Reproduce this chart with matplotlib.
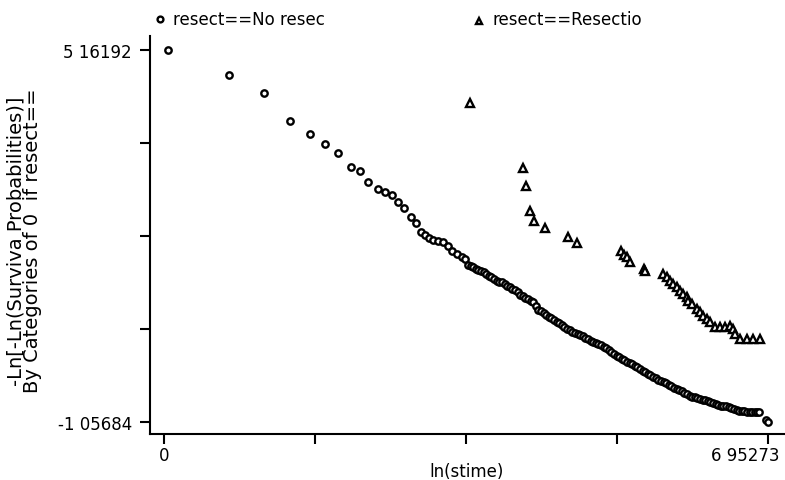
import matplotlib
matplotlib.use("Agg")
import matplotlib.pyplot as plt
import matplotlib.transforms as mtransforms

# ln(stime) vs -ln(-ln(S)) for "No resection" group (circles)
no_resec_x = [0.05, 0.75, 1.15, 1.45, 1.68, 1.85, 2.00, 2.15, 2.26, 2.35,
              2.46, 2.54, 2.63, 2.69, 2.76, 2.84, 2.90, 2.96, 3.00, 3.05,
              3.10, 3.15, 3.21, 3.27, 3.32, 3.37, 3.43, 3.47,
              3.50, 3.53, 3.56, 3.59, 3.62, 3.65, 3.68, 3.71, 3.74, 3.77,
              3.80, 3.83, 3.86, 3.89, 3.92, 3.95, 3.98, 4.01, 4.04, 4.07,
              4.10, 4.13, 4.16, 4.19, 4.22, 4.25, 4.28, 4.31, 4.34, 4.37,
              4.40, 4.43, 4.46, 4.49, 4.52, 4.55, 4.58, 4.61, 4.64, 4.67,
              4.70, 4.73, 4.76, 4.79, 4.82, 4.85, 4.88, 4.91, 4.94, 4.97,
              5.00, 5.03, 5.06, 5.09, 5.12, 5.15, 5.18, 5.21, 5.24, 5.27,
              5.30, 5.33, 5.36, 5.39, 5.42, 5.45, 5.48, 5.51, 5.54, 5.57,
              5.60, 5.63, 5.66, 5.69, 5.72, 5.75, 5.78, 5.81, 5.84, 5.87,
              5.90, 5.93, 5.96, 5.99, 6.02, 6.05, 6.08, 6.11, 6.14, 6.17,
              6.20, 6.23, 6.26, 6.29, 6.32, 6.35, 6.38, 6.41, 6.44, 6.47,
              6.50, 6.53, 6.56, 6.59, 6.62, 6.65, 6.68, 6.71, 6.74, 6.77,
              6.80, 6.83, 6.85, 6.93, 6.95]
no_resec_y = [5.16, 4.74, 4.44, 3.98, 3.76, 3.59, 3.44, 3.21, 3.14, 2.96,
              2.84, 2.79, 2.74, 2.62, 2.52, 2.37, 2.27, 2.12, 2.07, 2.02,
              1.99, 1.97, 1.95, 1.89, 1.80, 1.75, 1.70, 1.67,
              1.57, 1.55, 1.53, 1.50, 1.48, 1.46, 1.45, 1.42, 1.39, 1.36,
              1.33, 1.30, 1.29, 1.28, 1.25, 1.22, 1.19, 1.17, 1.14, 1.11,
              1.07, 1.04, 1.02, 0.99, 0.97, 0.95, 0.88, 0.82, 0.79, 0.76,
              0.73, 0.70, 0.68, 0.65, 0.62, 0.59, 0.56, 0.53, 0.50, 0.48,
              0.45, 0.43, 0.41, 0.39, 0.37, 0.35, 0.32, 0.30, 0.28, 0.26,
              0.24, 0.22, 0.20, 0.17, 0.14, 0.11, 0.08, 0.05, 0.03, 0.00,
              -0.03, -0.05, -0.07, -0.09, -0.12, -0.14, -0.17, -0.20, -0.23, -0.26,
              -0.28, -0.30, -0.33, -0.35, -0.37, -0.39, -0.41, -0.44, -0.46, -0.49,
              -0.51, -0.53, -0.55, -0.57, -0.60, -0.62, -0.64, -0.65, -0.66, -0.67,
              -0.69, -0.70, -0.71, -0.72, -0.74, -0.76, -0.78, -0.79, -0.80, -0.80,
              -0.81, -0.82, -0.84, -0.86, -0.87, -0.88, -0.88, -0.89, -0.89, -0.90,
              -0.90, -0.89, -0.89, -1.03, -1.057]

# "Resection" group (triangles)
resec_x = [3.52, 4.13, 4.17, 4.21, 4.26, 4.39, 4.65, 4.75, 5.26, 5.30,
           5.33, 5.36, 5.53, 5.54, 5.74, 5.79, 5.83, 5.86, 5.91, 5.94,
           5.97, 6.02, 6.03, 6.08, 6.14, 6.17, 6.20, 6.25, 6.29, 6.34,
           6.40, 6.46, 6.52, 6.55, 6.57, 6.63, 6.71, 6.78, 6.86]
resec_y = [4.28, 3.19, 2.89, 2.47, 2.30, 2.19, 2.04, 1.94, 1.80, 1.74,
           1.70, 1.62, 1.50, 1.47, 1.42, 1.37, 1.30, 1.25, 1.20, 1.13,
           1.08, 1.03, 0.97, 0.92, 0.83, 0.78, 0.72, 0.67, 0.62, 0.53,
           0.53, 0.53, 0.55, 0.50, 0.41, 0.33, 0.33, 0.33, 0.33]

x_min, x_max = 0.0, 6.95273
y_min, y_max = -1.05684, 5.16192
y_ticks = [y_min + i * (y_max - y_min) / 4 for i in range(5)]
x_ticks = [x_min + i * (x_max - x_min) / 4 for i in range(5)]

plt.rcParams['font.family'] = ['DejaVu Sans']
fig = plt.figure(figsize=(7.85, 4.81), dpi=100)
ax = fig.add_axes([0.191, 0.096, 0.809, 0.827])

circ = dict(marker='o', markersize=4.6, markerfacecolor='white',
            markeredgecolor='black', markeredgewidth=1.7)
tri = dict(marker='^', markersize=5.5, markerfacecolor='white',
           markeredgecolor='black', markeredgewidth=1.7)

ax.plot(no_resec_x, no_resec_y, linestyle='none', **circ)
ax.plot(resec_x, resec_y, linestyle='none', **tri)

ax.set_xlim(-0.161, 7.148)
ax.set_ylim(-1.258, 5.396)

ax.spines['top'].set_visible(False)
ax.spines['right'].set_visible(False)
ax.spines['left'].set_linewidth(1.5)
ax.spines['bottom'].set_linewidth(1.5)

ax.set_yticks(y_ticks)
ax.set_yticklabels(['-1 05684', '', '', '', '5 16192'], fontsize=12)
ax.set_xticks(x_ticks)
ax.set_xticklabels(['0', '', '', '', '6 95273'], fontsize=12)
ax.tick_params(axis='y', direction='out', length=7, width=1.5, pad=6)
ax.tick_params(axis='x', direction='out', length=7, width=1.5, pad=2)

# last x label sits shifted left of its tick
last = ax.get_xticklabels()[-1]
last.set_transform(last.get_transform() +
                   mtransforms.ScaledTranslation(-23 / 100, 0, fig.dpi_scale_trans))

ax.set_xlabel('ln(stime)', fontsize=12)
ax.xaxis.set_label_coords(0.498, -0.07)
ax.set_ylabel('-Ln[-Ln(Surviva Probabilities)]\nBy Categories of 0  if resect==',
              fontsize=14, linespacing=0.8)
ax.yaxis.set_label_coords(-0.17, 0.487)

# legend row above the plot
ax.plot([160 / 785], [1 - 20 / 481], transform=fig.transFigure, clip_on=False,
        markersize=4.2, **{k: v for k, v in circ.items() if k != 'markersize'})
fig.text(173 / 785, 1 - 20 / 481, 'resect==No resec', fontsize=12,
         va='center', ha='left')
ax.plot([479 / 785], [1 - 22 / 481], transform=fig.transFigure, clip_on=False,
        markersize=4.5, **{k: v for k, v in tri.items() if k != 'markersize'})
fig.text(493 / 785, 1 - 20 / 481, 'resect==Resectio', fontsize=12,
         va='center', ha='left')

fig.savefig('out.png', dpi=100)
